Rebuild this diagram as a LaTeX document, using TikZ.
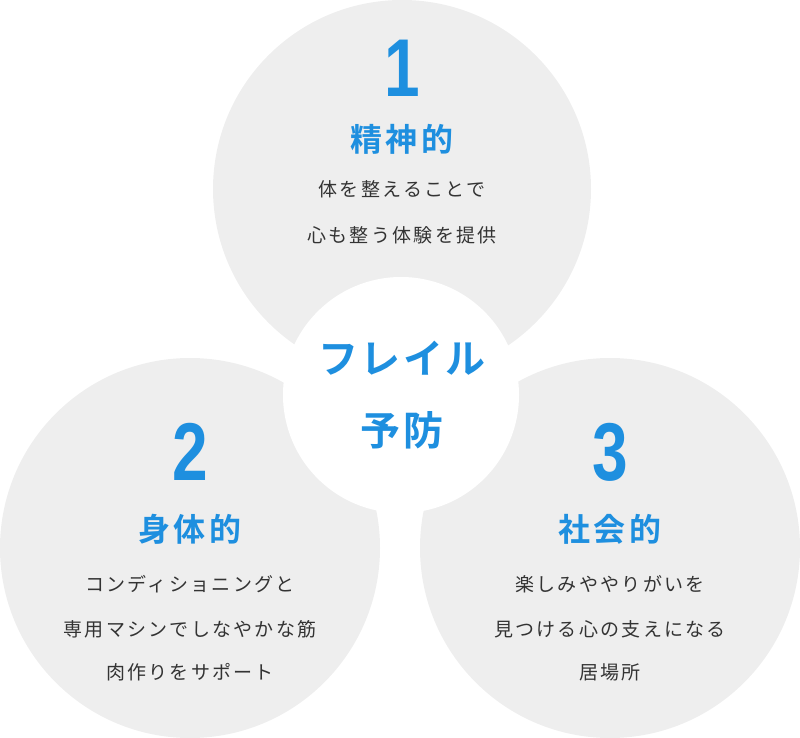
\documentclass[tikz,border=0pt]{standalone}
\usepackage{fontspec}
\newfontfamily\jp{Noto Sans CJK JP}
\newfontfamily\jpb{Noto Sans CJK JP Bold}
\newfontfamily\numf{Liberation Sans}
\definecolor{cgrey}{HTML}{EEEEEE}
\definecolor{cblue}{HTML}{1E8FDF}
\definecolor{ctext}{HTML}{333333}
\begin{document}
\begin{tikzpicture}[x=1pt,y=-1pt,
  bubble/.style={circle,fill=cgrey,draw=none,inner sep=0pt},
  num/.style={text=cblue,font=\numf\bfseries\fontsize{82}{82}\selectfont,xscale=0.78},
  head/.style={text=cblue,font=\jpb\fontsize{32}{32}\selectfont\addfontfeature{LetterSpace=10}},
  body/.style={text=ctext,font=\jp\fontsize{19}{19}\selectfont\addfontfeature{LetterSpace=12}},
  mid/.style={text=cblue,font=\jpb\fontsize{40}{40}\selectfont\addfontfeature{LetterSpace=6}}]
\useasboundingbox (0,0) rectangle (800,738);
\node[bubble,minimum size=378pt] (c1) at (402,189) {};
\node[bubble,minimum size=380pt] (c2) at (190,548) {};
\node[bubble,minimum size=380pt] (c3) at (610,548) {};
\node[circle,fill=white,minimum size=236pt,inner sep=0pt] (cc) at (401,395) {};
\node[num] (n1) at (402,68) {1};
\node[head] (h1) at (402,139) {精神的};
\node[body] (b1a) at (402,189) {体を整えることで};
\node[body] (b1b) at (402,235) {心も整う体験を提供};
\node[mid] (m1) at (402,358) {フレイル};
\node[mid] (m2) at (402,430) {予防};
\node[num] (n2) at (190,452) {2};
\node[head] (h2) at (190,529) {身体的};
\node[body] (b2a) at (190,584) {コンディショニングと};
\node[body] (b2b) at (190,629) {専用マシンでしなやかな筋};
\node[body] (b2c) at (190,672) {肉作りをサポート};
\node[num] (n3) at (610,452) {3};
\node[head] (h3) at (610,529) {社会的};
\node[body] (b3a) at (610,584) {楽しみややりがいを};
\node[body] (b3b) at (610,629) {見つける心の支えになる};
\node[body] (b3c) at (610,672) {居場所};
\end{tikzpicture}
\end{document}
